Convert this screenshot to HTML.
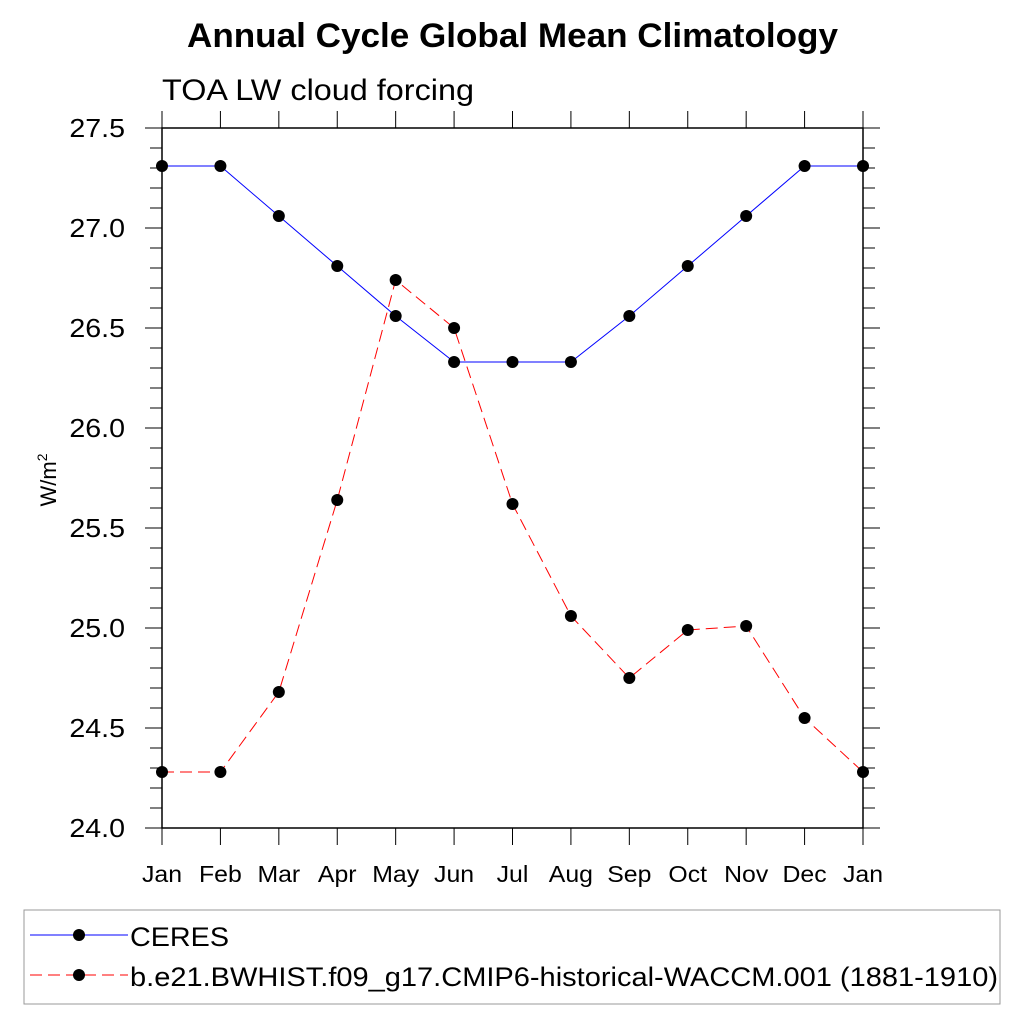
<!DOCTYPE html>
<html><head><meta charset="utf-8"><style>body{margin:0;background:#fff}svg{font-family:"Liberation Sans",sans-serif}</style></head>
<body>
<svg id="c" width="1024" height="1024">
<text x="187" y="47" font-size="34" font-weight="bold" textLength="651" lengthAdjust="spacingAndGlyphs">Annual Cycle Global Mean Climatology</text>
<text x="162" y="100" font-size="30" textLength="312" lengthAdjust="spacingAndGlyphs">TOA LW cloud forcing</text>
<text transform="translate(56,480) rotate(-90)" text-anchor="middle" font-size="22">W/m<tspan dy="-9" font-size="14">2</tspan></text>
<g id="axes"></g><g id="series"></g>
<rect x="24" y="910" width="976" height="94" fill="none" stroke="#999"/>
<g><line x1="30" y1="935" x2="128" y2="935" stroke="blue"/><circle cx="79" cy="935" r="6"/><text x="130" y="946" font-size="27" textLength="99" lengthAdjust="spacingAndGlyphs">CERES</text></g>
<g><line x1="30" y1="975" x2="128" y2="975" stroke="red" stroke-dasharray="12,6"/><circle cx="79" cy="975" r="6"/><text x="130" y="986" font-size="27" textLength="868" lengthAdjust="spacingAndGlyphs">b.e21.BWHIST.f09_g17.CMIP6-historical-WACCM.001 (1881-1910)</text></g>
</svg>
<script>
const months=["Jan","Feb","Mar","Apr","May","Jun","Jul","Aug","Sep","Oct","Nov","Dec","Jan"];
const ceres=[27.31,27.31,27.06,26.81,26.56,26.33,26.33,26.33,26.56,26.81,27.06,27.31,27.31];
const model=[24.28,24.28,24.68,25.64,26.74,26.50,25.62,25.06,24.75,24.99,25.01,24.55,24.28];
const yTicks=["24.0","24.5","25.0","25.5","26.0","26.5","27.0","27.5"];
const NS="http://www.w3.org/2000/svg";
const L=162,R=863,T=128,B=828,ymin=24,ymax=27.5;
const xs=i=>L+(R-L)*i/(months.length-1);
const ys=v=>B-(v-ymin)/(ymax-ymin)*(B-T);
function mk(t,a,p){const e=document.createElementNS(NS,t);for(const k in a)e.setAttribute(k,a[k]);p.appendChild(e);return e;}
const ax=document.getElementById('axes');
const fr=mk('rect',{x:L,y:T,width:R-L,height:B-T,fill:'none',stroke:'#000','stroke-width':1.5},ax);


months.forEach((m,i)=>{const x=xs(i);
mk('line',{x1:x,y1:B,x2:x,y2:B+17,stroke:'#000'},ax);
mk('line',{x1:x,y1:T,x2:x,y2:T-17,stroke:'#000'},ax);
const t=mk('text',{x:x,y:882,'text-anchor':'middle','font-size':23,transform:`translate(${x},0) scale(1.08,1) translate(${-x},0)`},ax);t.textContent=m;

});
for(let k=0;k<=35;k++){const v=ymin+k*0.1,y=ys(v),maj=k%5==0,len=maj?17:12;
mk('line',{x1:L,y1:y,x2:L-len,y2:y,stroke:'#000'},ax);
mk('line',{x1:R,y1:y,x2:R+len,y2:y,stroke:'#000'},ax);}
yTicks.forEach(s=>{const t=mk('text',{x:125,y:ys(+s)+9,'text-anchor':'end','font-size':26,transform:'translate(125,0) scale(1.1,1) translate(-125,0)'},ax);t.textContent=s;

});
const sg=document.getElementById('series');
function series(d,col,dash,name){const g=mk('g',{},sg);


mk('polyline',{points:d.map((v,i)=>xs(i)+','+ys(v)).join(' '),fill:'none',stroke:col,'stroke-dasharray':dash},g);
d.forEach((v,i)=>{const c=mk('circle',{cx:xs(i),cy:ys(v),r:6},g);

});}
series(ceres,'blue','none','ceres-series');
series(model,'red','12,6','model-series');
</script>
</body></html>
